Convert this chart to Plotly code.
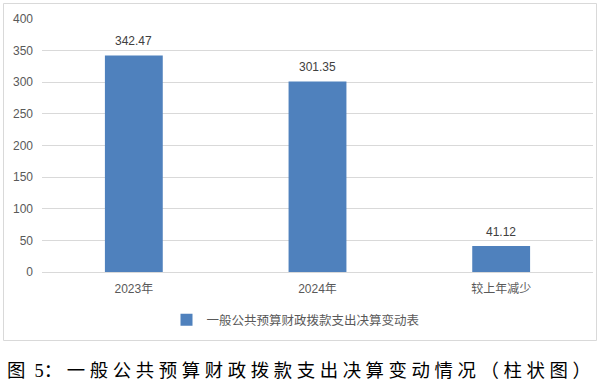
import plotly.graph_objects as go

categories = ["2023年", "2024年", "较上年减少"]
values = [342.47, 301.35, 41.12]
series_name = "一般公共预算财政拨款支出决算变动表"
y_ticks = [0, 50, 100, 150, 200, 250, 300, 350, 400]
caption = "图\u00a0\u00a05： 一 般 公 共 预 算 财 政 拨 款 支 出 决 算 变 动 情 况 （ 柱 状 图 ）"

W, H = 597, 387
L, R, T, B = 42, 4, 19, 115
pw, ph = W - L - R, H - T - B

def px_x(x):
    return (x - L) / pw

def px_y(y):
    return (H - B - y) / ph

BAR = "#4F81BD"
TXT = "#595959"
FONT = "Liberation Sans, Noto Sans CJK SC, sans-serif"

fig = go.Figure()
fig.add_trace(go.Bar(
    x=categories, y=values, name=series_name,
    marker=dict(color=BAR, line=dict(width=0)),
    showlegend=True,
))

for c, v in zip(categories, values):
    fig.add_annotation(x=c, y=v, text=f"{v:.2f}", showarrow=False,
                       yanchor="bottom", yshift=5,
                       font=dict(family=FONT, size=12, color="#404040"))

fig.add_annotation(xref="paper", yref="paper", x=px_x(5), y=px_y(371),
                   xanchor="left", yanchor="middle", showarrow=False,
                   text=caption,
                   font=dict(family="Liberation Serif, Noto Sans CJK SC, serif", size=18.4, color="#000000"))

fig.add_shape(type="rect", xref="paper", yref="paper",
              x0=px_x(3.5), x1=px_x(596.5), y0=px_y(340.5), y1=px_y(3.5),
              line=dict(color="#D9D9D9", width=1), fillcolor="rgba(0,0,0,0)", layer="below")

fig.update_layout(
    width=W, height=H,
    margin=dict(l=L, r=R, t=T, b=B, pad=0),
    paper_bgcolor="white", plot_bgcolor="white",
    bargap=0.685,
    font=dict(family=FONT, size=12, color=TXT),
    legend=dict(orientation="h", x=px_x(296), xanchor="center", y=px_y(320), yanchor="middle",
                font=dict(family="Noto Sans CJK SC, sans-serif", size=12.5, color=TXT),
                itemwidth=30, bgcolor="rgba(0,0,0,0)"),
    xaxis=dict(showgrid=False, showline=True, linecolor="#D9D9D9", linewidth=1,
               ticks="", ticklabelstandoff=6, tickfont=dict(family=FONT, size=12, color=TXT)),
    yaxis=dict(range=[0, 400], tickvals=y_ticks, showgrid=True, gridcolor="#D9D9D9", gridwidth=1,
               zeroline=False, showline=False, ticks="", ticklabelstandoff=8,
               tickfont=dict(family=FONT, size=12, color=TXT)),
)

fig.write_html("out.html", config={"displayModeBar": False},
               post_script="document.body.style.margin='0';document.body.style.padding='0';document.body.style.overflow='hidden';")
